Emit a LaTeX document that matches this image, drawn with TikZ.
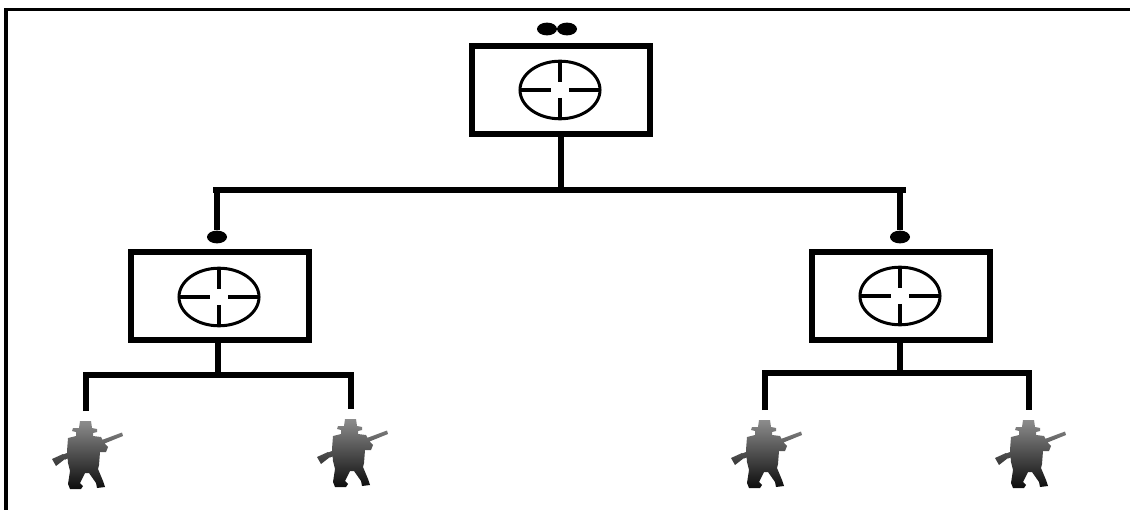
\documentclass[tikz,border=0pt]{standalone}
\usepackage{tikz}
\usetikzlibrary{positioning,shapes.geometric}
\tikzset{
	cmd box/.style={draw, line width=0.15cm, minimum width=4.45cm, minimum height=2.2cm, inner sep=0pt},
	link/.style={line width=0.14cm, line join=miter},
	rank dot/.style={ellipse, fill, minimum width=0.5cm, minimum height=0.32cm, inner sep=0pt},
	sight/.pic={
		\draw[line width=0.075cm] (0,0) ellipse [x radius=1cm, y radius=0.72cm];
		\draw[line width=0.11cm] (-40,0) -- (-9,0) (9,0) -- (40,0)
			(0,-29) -- (0,-8) (0,8) -- (0,29);
	},
	soldier/.pic={
		\begin{scope}[shift={(-1,10)}]
		\path[top color=black!45, bottom color=black!95]
			% body
			(-5,0) -- (6,0) -- (7,7) -- (12,8) -- (12,11) -- (8,12) -- (8,15)
			-- (16,16) -- (19,22) -- (23,26) -- (21,31) -- (15,31) -- (14,44)
			-- (13,48) -- (18,60) -- (20,66) -- (12,67) -- (11,62) -- (4,52)
			-- (0,52) -- (-5,62) -- (-2,65) -- (-4,68) -- (-15,68) -- (-17,63)
			-- (-15,50) -- (-17,42) -- (-18,30) -- (-17,17) -- (-9,15) -- (-9,11)
			-- (-13,10) -- (-12,7) -- (-6,7) -- cycle
			% rifle
			(-22,33.5) -- (37,11.5) -- (38,15) -- (-20,38.5) -- cycle
			(-33,38) -- (-22,33) -- (-20,38) -- (-29,45) -- cycle;
		\end{scope}
	}
}

\begin{document}
\begin{tikzpicture}[x=0.025cm, y=-0.025cm]
	\useasboundingbox (0,0) rectangle (1130,510);
	\draw[line width=0.075cm] (6,510) -- (6,10) -- (1130,10);

	% command posts
	\node[cmd box] (hq) at (561,90) {};
	\node[cmd box] (lead) at (220,296) {};
	\node[cmd box] (read) at (901,296) {};
	\pic at (560,90) {sight};
	\pic at (219,297) {sight};
	\pic at (900,296) {sight};

	% rank marks
	\node[rank dot] (hqdota) at (547,29) {};
	\node[rank dot] (hqdotb) at (567,29) {};
	\node[rank dot] (ldot) at (217,237) {};
	\node[rank dot] (rdot) at (900,237) {};

	% upper level
	\coordinate (barw) at (213,190);
	\coordinate (bare) at (906,190);
	\draw[link] (hq.south) -- (hq.south |- barw);
	\draw[link] (barw) -- (bare);
	\draw[link] (ldot |- barw) -- (ldot.north);
	\draw[link] (rdot |- bare) -- (rdot.north);

	% lower level
	\coordinate (s1) at (86,411);
	\coordinate (s2) at (351,409);
	\coordinate (s3) at (765,410);
	\coordinate (s4) at (1029,410);
	\coordinate (lbar) at (218,375);
	\coordinate (rbar) at (900,373);
	\draw[link] (lead.south -| lbar) -- (lbar);
	\draw[link] (s1) |- (lbar) -| (s2);
	\draw[link] (read.south -| rbar) -- (rbar);
	\draw[link] (s3) |- (rbar) -| (s4);

	\foreach \s in {s1,s2,s3,s4}
		\pic at (\s) {soldier};
\end{tikzpicture}
\end{document}
